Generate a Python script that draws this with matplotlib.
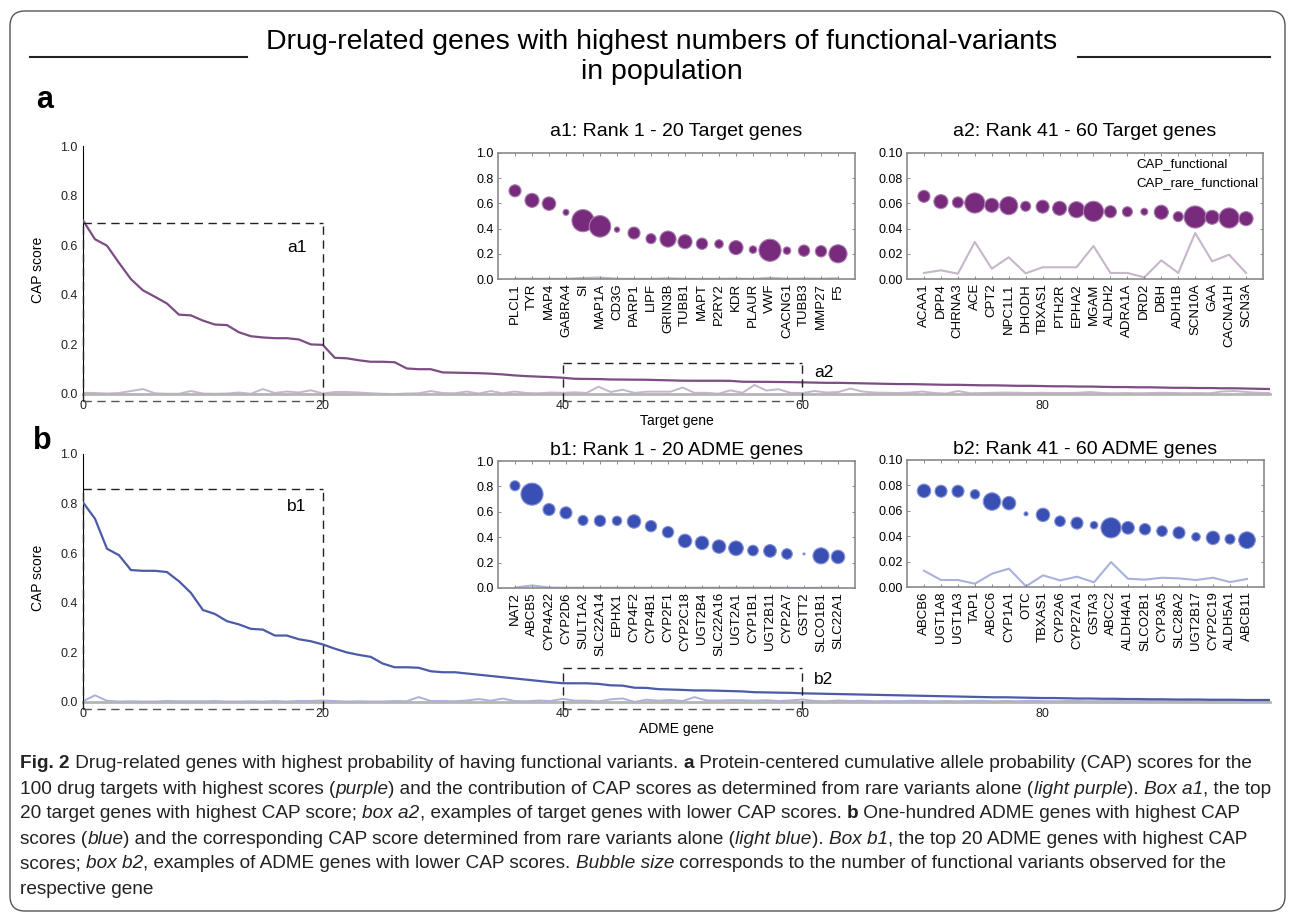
import numpy as np
import matplotlib
matplotlib.use('Agg')
import matplotlib.pyplot as plt
from matplotlib.patches import FancyBboxPatch

plt.rcParams['font.family'] = ['Liberation Sans', 'DejaVu Sans']
NARROW = ['Liberation Sans Narrow', 'Liberation Sans', 'DejaVu Sans']

# ---- inset data: target genes, rank 1-20 ----
a1_genes = ['PLCL1', 'TYR', 'MAP4', 'GABRA4', 'SI', 'MAP1A', 'CD3G', 'PARP1', 'LIPF', 'GRIN3B',
            'TUBB1', 'MAPT', 'P2RY2', 'KDR', 'PLAUR', 'VWF', 'CACNG1', 'TUBB3', 'MMP27', 'F5']
a1_cap = [0.700, 0.624, 0.598, 0.529, 0.463, 0.418, 0.392, 0.365, 0.320, 0.317,
          0.296, 0.280, 0.278, 0.249, 0.233, 0.228, 0.225, 0.225, 0.220, 0.200]
a1_rare = [0.002, 0.002, 0.002, 0.002, 0.008, 0.012, 0.002, 0.001, 0.001, 0.006,
           0.002, 0.001, 0.002, 0.004, 0.001, 0.010, 0.002, 0.004, 0.003, 0.006]
a1_nvar = [36, 49, 45, 9, 121, 114, 7, 36, 25, 64, 49, 32, 18, 49, 14, 121, 14, 32, 32, 81]

# ---- target genes, rank 41-60 ----
a2_genes = ['ACAA1', 'DPP4', 'CHRNA3', 'ACE', 'CPT2', 'NPC1L1', 'DHODH', 'TBXAS1', 'PTH2R', 'EPHA2',
            'MGAM', 'ALDH2', 'ADRA1A', 'DRD2', 'DBH', 'ADH1B', 'SCN10A', 'GAA', 'CACNA1H', 'SCN3A']
a2_cap = [0.0656, 0.0614, 0.0608, 0.0603, 0.0585, 0.0582, 0.0577, 0.0574, 0.0561, 0.0550,
          0.0537, 0.0534, 0.0534, 0.0534, 0.0530, 0.0495, 0.0492, 0.0490, 0.0484, 0.0479]
a2_rare = [0.0048, 0.0069, 0.0042, 0.0294, 0.0082, 0.0172, 0.0045, 0.0093, 0.0093, 0.0093,
           0.0262, 0.0048, 0.0048, 0.0013, 0.0148, 0.0048, 0.0365, 0.0140, 0.0193, 0.0048]
a2_nvar = [36, 49, 30, 100, 49, 81, 25, 42, 49, 64, 100, 36, 25, 12, 49, 25, 121, 49, 100, 49]

# ---- ADME genes, rank 1-20 ----
b1_genes = ['NAT2', 'ABCB5', 'CYP4A22', 'CYP2D6', 'SULT1A2', 'SLC22A14', 'EPHX1', 'CYP4F2', 'CYP4B1', 'CYP2F1',
            'CYP2C18', 'UGT2B4', 'SLC22A16', 'UGT2A1', 'CYP1B1', 'UGT2B11', 'CYP2A7', 'GSTT2', 'SLCO1B1', 'SLC22A1']
b1_cap = [0.805, 0.739, 0.618, 0.592, 0.532, 0.529, 0.529, 0.524, 0.487, 0.440,
          0.371, 0.355, 0.326, 0.313, 0.295, 0.292, 0.268, 0.268, 0.253, 0.245]
b1_rare = [0.003, 0.020, 0.004, 0.002, 0.002, 0.002, 0.002, 0.002, 0.002, 0.002,
           0.002, 0.002, 0.002, 0.003, 0.002, 0.002, 0.002, 0.000, 0.002, 0.002]
b1_nvar = [25, 121, 36, 36, 25, 32, 22, 45, 32, 32, 45, 45, 45, 53, 28, 40, 28, 1, 64, 45]

# ---- ADME genes, rank 41-60 ----
b2_genes = ['ABCB6', 'UGT1A8', 'UGT1A3', 'TAP1', 'ABCC6', 'CYP1A1', 'OTC', 'TBXAS1', 'CYP2A6', 'CYP27A1',
            'GSTA3', 'ABCC2', 'ALDH4A1', 'SLCO2B1', 'CYP3A5', 'SLC28A2', 'UGT2B17', 'CYP2C19', 'ALDH5A1', 'ABCB11']
b2_cap = [0.0757, 0.0754, 0.0754, 0.0730, 0.0673, 0.0660, 0.0576, 0.0568, 0.0518, 0.0503,
          0.0487, 0.0466, 0.0466, 0.0455, 0.0440, 0.0427, 0.0395, 0.0387, 0.0377, 0.0369]
b2_rare = [0.0128, 0.0055, 0.0055, 0.0026, 0.0105, 0.0144, 0.0005, 0.0092, 0.0052, 0.0081,
           0.0037, 0.0196, 0.0065, 0.0058, 0.0073, 0.0068, 0.0055, 0.0073, 0.0039, 0.0063]
b2_nvar = [45, 36, 36, 22, 76, 45, 4, 45, 28, 36, 14, 100, 40, 32, 28, 36, 18, 45, 25, 69]

# ---- full 100-gene curves (ranks 21-40 and 61-100) ----
a_cap_21_40 = [0.198, 0.146, 0.144, 0.136, 0.130, 0.130, 0.128, 0.103, 0.100, 0.100,
               0.087, 0.086, 0.085, 0.084, 0.082, 0.079, 0.075, 0.072, 0.070, 0.068]
a_cap_61_100 = [0.047, 0.046, 0.045, 0.045, 0.044, 0.043, 0.042, 0.041, 0.040, 0.040,
                0.039, 0.038, 0.037, 0.037, 0.036, 0.035, 0.035, 0.034, 0.033, 0.033,
                0.032, 0.031, 0.031, 0.030, 0.030, 0.029, 0.028, 0.028, 0.027, 0.027,
                0.026, 0.025, 0.025, 0.024, 0.024, 0.023, 0.023, 0.022, 0.021, 0.020]
a_rare_1_20 = [0.005, 0.004, 0.002, 0.004, 0.012, 0.020, 0.003, 0.001, 0.001, 0.012,
               0.002, 0.001, 0.002, 0.006, 0.001, 0.020, 0.004, 0.010, 0.006, 0.015]
a_rare_21_40 = [0.002, 0.008, 0.008, 0.006, 0.003, 0.001, 0.000, 0.002, 0.003, 0.012,
                0.004, 0.003, 0.010, 0.002, 0.012, 0.003, 0.010, 0.004, 0.003, 0.006]
a_rare_61_100 = [0.004, 0.012, 0.006, 0.008, 0.022, 0.010, 0.006, 0.005, 0.004, 0.006,
                 0.010, 0.004, 0.002, 0.012, 0.003, 0.004, 0.005, 0.006, 0.005, 0.004,
                 0.005, 0.004, 0.004, 0.005, 0.008, 0.004, 0.003, 0.004, 0.003, 0.004,
                 0.005, 0.004, 0.003, 0.004, 0.003, 0.010, 0.012, 0.008, 0.005, 0.004]

b_cap_21_40 = [0.232, 0.215, 0.200, 0.190, 0.182, 0.155, 0.140, 0.140, 0.138, 0.124,
               0.120, 0.120, 0.115, 0.110, 0.105, 0.100, 0.095, 0.090, 0.085, 0.080]
b_cap_61_100 = [0.035, 0.034, 0.033, 0.032, 0.031, 0.030, 0.029, 0.028, 0.027, 0.026,
                0.025, 0.024, 0.023, 0.022, 0.021, 0.020, 0.019, 0.019, 0.018, 0.017,
                0.016, 0.016, 0.015, 0.014, 0.014, 0.013, 0.013, 0.012, 0.012, 0.011,
                0.011, 0.010, 0.010, 0.010, 0.009, 0.009, 0.009, 0.008, 0.008, 0.008]
b_rare_1_20 = [0.003, 0.027, 0.005, 0.002, 0.003, 0.002, 0.002, 0.004, 0.003, 0.003,
               0.003, 0.004, 0.002, 0.002, 0.003, 0.002, 0.004, 0.002, 0.004, 0.004]
b_rare_21_40 = [0.006, 0.004, 0.002, 0.003, 0.002, 0.002, 0.004, 0.003, 0.020, 0.004,
                0.004, 0.003, 0.006, 0.012, 0.005, 0.014, 0.004, 0.003, 0.006, 0.004]
b_rare_61_100 = [0.010, 0.004, 0.003, 0.006, 0.004, 0.005, 0.003, 0.004, 0.003, 0.005,
                 0.004, 0.003, 0.004, 0.003, 0.004, 0.005, 0.003, 0.004, 0.003, 0.005,
                 0.004, 0.003, 0.004, 0.004, 0.003, 0.004, 0.005, 0.003, 0.004, 0.005,
                 0.004, 0.003, 0.004, 0.003, 0.004, 0.003, 0.004, 0.003, 0.004, 0.004]

a_cap = a1_cap + a_cap_21_40 + a2_cap + a_cap_61_100
a_rare = a_rare_1_20 + a_rare_21_40 + a2_rare + a_rare_61_100
b_cap = b1_cap + b_cap_21_40 + b2_cap + b_cap_61_100
b_rare = b_rare_1_20 + b_rare_21_40 + b2_rare + b_rare_61_100

title_lines = ['Drug-related genes with highest numbers of functional-variants', 'in population']

# colours
PURPLE_LINE = '#7b4d83'
PURPLE_LIGHT = '#c6b6ca'
PURPLE_DOT = '#782a7c'
PURPLE_EDGE = '#a97fb0'
BLUE_LINE = '#4b5ba8'
BLUE_LIGHT = '#aab2dc'
BLUE_DOT = '#3a4fb4'
BLUE_EDGE = '#8795d6'

W, H = 1290, 915
fig = plt.figure(figsize=(W / 100, H / 100), dpi=100)
renderer = fig.canvas.get_renderer()


def px_rect(x0, y0, x1, y1):
    # pixel box (top-left origin) -> figure fraction rect
    return [x0 / W, 1 - y1 / H, (x1 - x0) / W, (y1 - y0) / H]


def text_w(s, size, **kw):
    # advance width in pixels, trailing/leading spaces included
    t1 = fig.text(0, 0, '|' + s + '|', fontsize=size, **kw)
    t2 = fig.text(0, 0, '||', fontsize=size, **kw)
    w = t1.get_window_extent(renderer).width - t2.get_window_extent(renderer).width
    t1.remove()
    t2.remove()
    return w


def main_panel(rect, cap, rare, c_line, c_rare, xlabel, boxes):
    ax = fig.add_axes(rect)
    x = np.arange(len(cap))
    ax.plot(x, rare, color=c_rare, lw=1.4, zorder=2)
    ax.plot(x, cap, color=c_line, lw=1.6, zorder=3)
    ax.set_xlim(0, 99)
    ax.set_ylim(0, 1)
    for s in ['top', 'right']:
        ax.spines[s].set_visible(False)
    ax.spines['left'].set_color('black')
    ax.spines['left'].set_linewidth(0.8)
    ax.spines['bottom'].set_color('#b5b5b5')
    ax.spines['bottom'].set_linewidth(2)
    ax.set_xticks([0, 20, 40, 60, 80])
    ax.set_yticks(np.arange(0, 1.01, 0.2))
    ax.set_yticklabels(['%.1f' % v for v in np.arange(0, 1.01, 0.2)])
    ax.tick_params(labelsize=9, length=0, pad=4, colors='#222222')
    ax.set_ylabel('CAP score', fontsize=10)
    ax.yaxis.set_label_coords(-0.032, 0.5)
    ax.set_xlabel(xlabel, fontsize=10, labelpad=2)
    ax.set_facecolor('none')
    for x0, x1, top, name, lx, ly in boxes:
        kw = dict(color='#222222', lw=1.0, ls=(0, (6, 4)), clip_on=False, zorder=4)
        ax.plot([x0, x1], [top, top], **kw)
        ax.plot([x0, x1], [-0.03, -0.03], **dict(kw, color='#555555'))
        ax.plot([x0, x0], [-0.03, top], **kw)
        ax.plot([x1, x1], [-0.03, top], **kw)
        ax.text(lx, ly, name, fontsize=12.5, ha='left', va='center')
    return ax


def inset(rect, genes, cap, rare, nvar, c_dot, c_edge, c_rare, title, ymax, fmt, tpad):
    ax = fig.add_axes(rect)
    x = np.arange(len(genes))
    ax.plot(x, rare, color=c_rare, lw=1.5, zorder=1)
    ax.scatter(x, cap, s=np.array(nvar) * 2.1, color=c_dot, edgecolors=c_edge,
               linewidths=0.8, zorder=2)
    ax.set_xlim(-1, 20)
    ax.set_ylim(0, ymax)
    ax.set_xticks(x)
    ax.set_xticklabels(genes, rotation=90, fontsize=9.5)
    yt = np.linspace(0, ymax, 6)
    ax.set_yticks(yt)
    ax.set_yticklabels([fmt % v for v in yt])
    ax.tick_params(axis='y', labelsize=9)
    ax.tick_params(direction='in', length=2, width=0.6, top=True, right=True,
                   color='#777777', pad=3)
    for s in ax.spines.values():
        s.set_color('#8a8a8a')
        s.set_linewidth(1.2)
    ax.set_title(title, fontsize=14, pad=tpad)
    return ax


main_panel(px_rect(83, 146, 1270, 394), a_cap, a_rare, PURPLE_LINE, PURPLE_LIGHT, 'Target gene',
           [(0, 20, 0.69, 'a1', 17.0, 0.59), (40, 60, 0.125, 'a2', 61.0, 0.085)])
main_panel(px_rect(83, 454, 1270, 702), b_cap, b_rare, BLUE_LINE, BLUE_LIGHT, 'ADME gene',
           [(0, 20, 0.86, 'b1', 17.0, 0.79), (40, 60, 0.137, 'b2', 61.0, 0.089)])

inset(px_rect(498, 153, 855, 279), a1_genes, a1_cap, a1_rare, a1_nvar, PURPLE_DOT, PURPLE_EDGE,
      PURPLE_LIGHT, 'a1: Rank 1 - 20 Target genes', 1.0, '%.1f', 12)
ax_a2 = inset(px_rect(907, 153, 1263, 279), a2_genes, a2_cap, a2_rare, a2_nvar, PURPLE_DOT, PURPLE_EDGE,
              PURPLE_LIGHT, 'a2: Rank 41 - 60 Target genes', 0.10, '%.2f', 12)
ax_a2.text(0.644, 0.913, 'CAP_functional', transform=ax_a2.transAxes, fontsize=9.5, va='center')
ax_a2.text(0.644, 0.762, 'CAP_rare_functional', transform=ax_a2.transAxes, fontsize=9.5, va='center')
inset(px_rect(498, 461, 855, 588), b1_genes, b1_cap, b1_rare, b1_nvar, BLUE_DOT, BLUE_EDGE,
      BLUE_LIGHT, 'b1: Rank 1 - 20 ADME genes', 1.0, '%.1f', 4)
inset(px_rect(907, 460, 1264, 587), b2_genes, b2_cap, b2_rare, b2_nvar, BLUE_DOT, BLUE_EDGE,
      BLUE_LIGHT, 'b2: Rank 41 - 60 ADME genes', 0.10, '%.2f', 4)

# panel letters
fig.text(45 / W, 1 - 100 / H, 'a', fontsize=22, fontweight='bold', ha='center', va='center')
fig.text(42 / W, 1 - 441 / H, 'b', fontsize=22, fontweight='bold', ha='center', va='center')

# title with side rules; size chosen so line 1 spans ~795 px
title_size = 10 * 795 / text_w(title_lines[0], 10, family=NARROW)
fig.text(662 / W, 1 - 42 / H, title_lines[0], fontsize=title_size, family=NARROW, ha='center', va='center')
fig.text(662 / W, 1 - 72 / H, title_lines[1], fontsize=title_size, family=NARROW, ha='center', va='center')
fig.add_artist(plt.Line2D([30 / W, 247 / W], [1 - 57 / H] * 2, color='#222222', lw=1.5))
fig.add_artist(plt.Line2D([1078 / W, 1270 / W], [1 - 57 / H] * 2, color='#222222', lw=1.5))

# rounded frame
fig.add_artist(FancyBboxPatch((0.1, 0.04), 12.75, 9.0, boxstyle='round,pad=0,rounding_size=0.15',
                              transform=fig.dpi_scale_trans, fill=False, ec='#555555', lw=1.0))

# caption
caption = [
    [('Fig. 2', 'b'), (' Drug-related genes with highest probability of having functional variants. ', 'n'),
     ('a', 'b'), (' Protein-centered cumulative allele probability (CAP) scores for the', 'n')],
    [('100 drug targets with highest scores (', 'n'), ('purple', 'i'),
     (') and the contribution of CAP scores as determined from rare variants alone (', 'n'),
     ('light purple', 'i'), ('). ', 'n'), ('Box a1', 'i'), (', the top', 'n')],
    [('20 target genes with highest CAP score; ', 'n'), ('box a2', 'i'),
     (', examples of target genes with lower CAP scores. ', 'n'), ('b', 'b'),
     (' One-hundred ADME genes with highest CAP', 'n')],
    [('scores (', 'n'), ('blue', 'i'), (') and the corresponding CAP score determined from rare variants alone (', 'n'),
     ('light blue', 'i'), ('). ', 'n'), ('Box b1', 'i'), (', the top 20 ADME genes with highest CAP', 'n')],
    [('scores; ', 'n'), ('box b2', 'i'), (', examples of ADME genes with lower CAP scores. ', 'n'),
     ('Bubble size', 'i'), (' corresponds to the number of functional variants observed for the', 'n')],
    [('respective gene', 'n')],
]
cap_y = [764, 789, 814, 839, 864, 889]
styles = {'n': {}, 'b': {'fontweight': 'bold'}, 'i': {'fontstyle': 'italic'}}

# size chosen so the first caption line spans ~1244 px
w10 = sum(text_w(s, 10, family=NARROW, **styles[st]) for s, st in caption[0])
cap_size = 10 * 1244 / w10

for line, yy in zip(caption, cap_y):
    xx = 20.0
    for s, st in line:
        kw = dict(styles[st], family=NARROW)
        fig.text(xx / W, 1 - yy / H, s, fontsize=cap_size, va='center', ha='left', color='#222222', **kw)
        xx += text_w(s, cap_size, **kw)

fig.savefig('out.png', dpi=100)
